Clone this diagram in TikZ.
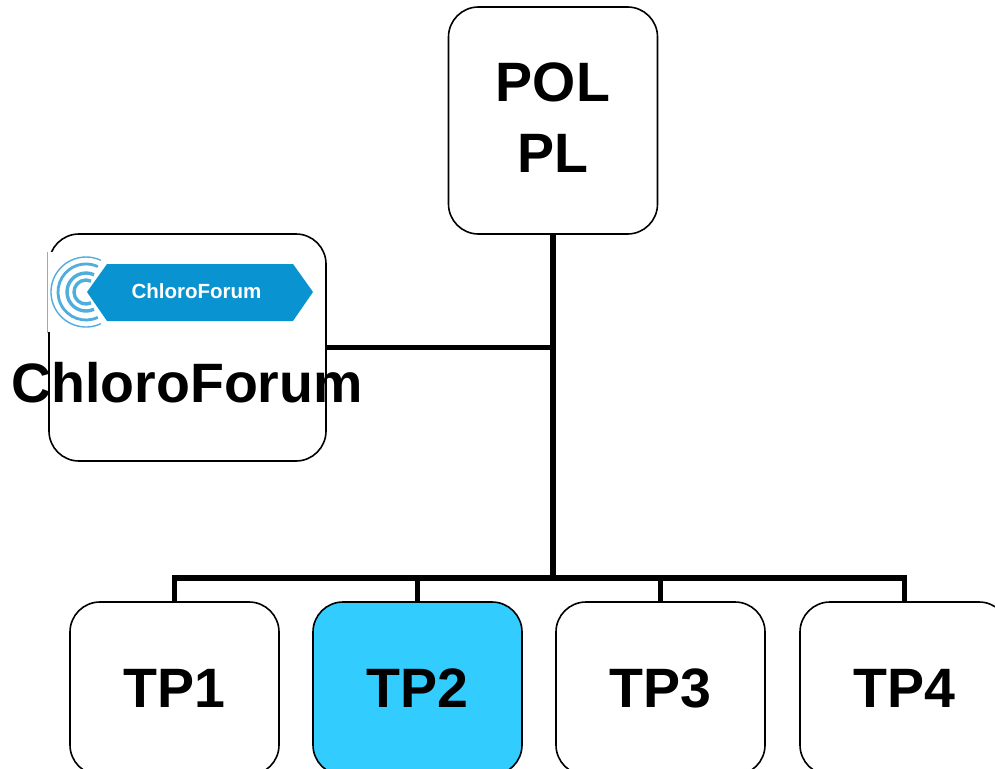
\documentclass[tikz,border=0pt]{standalone}
\usepackage{fontspec}
\setmainfont{Liberation Sans}
\usetikzlibrary{positioning}
\definecolor{tpblue}{HTML}{33CCFF}
\definecolor{logoblue}{HTML}{0A93D1}
\definecolor{ringblue}{HTML}{4FAEDD}

\begin{document}
\begin{tikzpicture}[x=1pt, y=-1pt,
    every node/.style={font=\fontsize{55.5}{71}\selectfont\bfseries},
    wp/.style={draw, line width=1.6pt, rounded corners=30pt, align=center, outer sep=0pt, inner sep=0pt, minimum width=209pt, minimum height=173pt},
    bar/.style={line width=5.5pt}]
    \useasboundingbox (0,0) rectangle (995,768);
    \node (pol)   [wp, minimum height=227pt] at (553,120.5) {\begin{tabular}{@{}c@{}}POL\\PL\\[-4pt]\end{tabular}};
    \node (forum) [wp, minimum width=277pt, minimum height=227pt] at (187.5,347.5) {};
    \node (tp1)   [wp] at (174.5,688.5) {TP1};
    \node (tp2)   [wp, fill=tpblue, right=34pt of tp1] {TP2};
    \node (tp3)   [wp, right=34pt of tp2] {TP3};
    \node (tp4)   [wp, right=35pt of tp3] {TP4};
    % logo over the corner of the box
    \fill[white] (47,252) rectangle (322,332);
    \draw[gray!70, line width=0.6pt] (47.5,252) -- (47.5,333);
    \foreach \r/\w in {35/1.4, 28/2.8, 19/3.4, 12/3.4}
      \draw[ringblue, line width=\w pt] (86,292) ++(65:\r) arc (65:295:\r);
    \fill[logoblue] (107,264) -- (293,264) -- (313,292) -- (293,321) -- (107,321) -- (87,292) -- cycle;
    \node (logo)  [text=white, font=\fontsize{20.5}{24}\selectfont\bfseries] at (196.5,291.5) {ChloroForum};
    % connectors
    \coordinate (bus) at (pol.south |- 0,578);
    \draw[bar] (pol.south) -- (bus);
    \draw[bar, line width=5pt] (forum.east) -- (forum.east -| pol);
    \draw[bar, line cap=rect] (tp1.north |- bus) -- (tp4.north |- bus);
    \foreach \n in {tp1,tp2,tp3,tp4}
      \draw[bar] (\n.north |- bus) -- (\n.north);
    \node (forumlabel) at (187,383) {ChloroForum};
\end{tikzpicture}
\end{document}
